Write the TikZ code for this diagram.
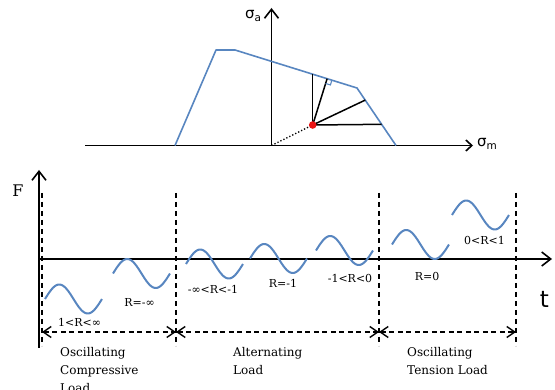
\documentclass[tikz,border=0pt]{standalone}
\usepackage{fontspec}
\setmainfont{DejaVu Serif}
\newfontfamily\sansfnt{DejaVu Sans}
\usetikzlibrary{arrows.meta,calc}
\definecolor{wavecol}{RGB}{88,134,192}
\definecolor{dotred}{RGB}{235,20,20}
\begin{document}
\begin{tikzpicture}[x=1pt,y=-1pt,
  axis/.style={line width=1.7pt,-{Straight Barb[length=9pt,width=14pt,line width=1.6pt]}},
  smallaxis/.style={line width=1.7pt,-{Straight Barb[length=6pt,width=11pt,line width=1.6pt]}},
  envelope/.style={wavecol,line width=1.6pt,line join=round},
  ray/.style={line width=1.5pt},
  sep/.style={dashed,line width=1.6pt,dash pattern=on 5pt off 4pt},
  span/.style={dashed,line width=1.5pt,dash pattern=on 5pt off 3.5pt,{Straight Barb[length=8pt,width=11pt,line width=1.4pt]}-{Straight Barb[length=8pt,width=11pt,line width=1.4pt]}},
  wave/.style={wavecol,line width=2pt},
  rlab/.style={font=\fontsize{11}{12}\selectfont,inner sep=0pt},
  title/.style={font=\fontsize{12}{18}\selectfont,align=left,anchor=base west,inner sep=0pt}]
\useasboundingbox (0,0) rectangle (555,390);
% ---------- top diagram ----------
\coordinate (O) at (271.5,145.5);
\coordinate (mL) at (85,145.5);
\coordinate (mR) at (473,145.5);
\coordinate (aT) at (271.5,8);
\draw[smallaxis] (mL) -- (mR);
\draw[axis] (O) -- (aT);
\node[font=\sansfnt\fontsize{15}{15}\selectfont,inner sep=0pt] (sa) at (253,16) {σ\raisebox{-3pt}{\fontsize{10.5}{10}\selectfont a}};
\node[font=\sansfnt\fontsize{15}{15}\selectfont,inner sep=0pt] (sm) at (487,144) {σ\raisebox{-3pt}{\fontsize{10.5}{10}\selectfont m}};
% envelope
\coordinate (e1) at (175,145.5);
\coordinate (e2) at (216,50);
\coordinate (e3) at (235,50);
\coordinate (e4) at (357,88);
\coordinate (e5) at (396,145.5);
\draw[envelope] (e1) -- (e2) -- (e3) -- (e4) -- (e5);
\coordinate (P) at (312.7,125);
\coordinate (r1) at ($(e3)!(P)!(e4)$);
\coordinate (r0) at (312.7,{50+(312.7-235)*38/122});
\coordinate (r2) at ($(e4)!{(100-88)/57}!(e5)$);
\coordinate (r3) at ($(e4)!{(124-88)/57}!(e5)$);
\draw[ray] (P) -- (r0);
\draw[ray] (P) -- (r1);
\draw[ray] (P) -- (r2);
\draw[ray] (P) -- (r3);
\coordinate (q1) at ($(r1)!5pt!(e4)$);
\coordinate (q3) at ($(r1)!5pt!(P)$);
\draw[wavecol,line width=1.1pt] (q1) -- ($(q1)+(q3)-(r1)$) -- (q3);
\draw[line width=1.3pt,dotted] (O) -- (P);
\fill[dotred] (P) circle (3.8pt);
% ---------- bottom diagram ----------
\coordinate (Fb) at (39,348);
\coordinate (Ft) at (39,170);
\coordinate (tL) at (39,259);
\coordinate (tR) at (552,259);
\draw[axis] (Fb) -- (Ft);
\draw[axis] (tL) -- (tR);
\node[font=\fontsize{16}{16}\selectfont,inner sep=0pt] (F) at (18,190.5) {F};
\node[font=\sansfnt\fontsize{23}{23}\selectfont,inner sep=0pt] (t) at (544.5,299) {t};
% separators
\foreach \i/\xx in {1/42,2/176,3/379,4/516}{
  \coordinate (s\i t) at (\xx,193);
  \coordinate (s\i b) at (\xx,346);
  \coordinate (s\i m) at (\xx,332);
  \draw[sep] (s\i t) -- (s\i b);
}
\draw[span] (s1m) -- (s2m);
\draw[span] (s2m) -- (s3m);
\draw[span] (s3m) -- (s4m);
% waves
\foreach \xo/\m in {45/299,113/273.5,186/264,250/258.5,316/250.5,392/244.5,452/215}{
  \draw[wave] plot[domain=0:1,samples=50,smooth] ({\xo+57*\x},{\m-14.5*sin(360*\x)});
}
% labels
\node[rlab] (l1) at (79.5,322) {1<R<∞};
\node[rlab] (l2) at (139.5,302) {R=-∞};
\node[rlab] (l3) at (213,289) {-∞<R<-1};
\node[rlab] (l4) at (283,283) {R=-1};
\node[rlab] (l5) at (350,278) {-1<R<0};
\node[rlab] (l6) at (427,276) {R=0};
\node[rlab] (l7) at (484.5,240) {0<R<1};
\node[title] (c1) at (60,393) {Oscillating\\Compressive\\Load};
\node[title] (c2) at (233,375) {Alternating\\Load};
\node[title] (c3) at (407,375) {Oscillating\\Tension Load};
\end{tikzpicture}
\end{document}
